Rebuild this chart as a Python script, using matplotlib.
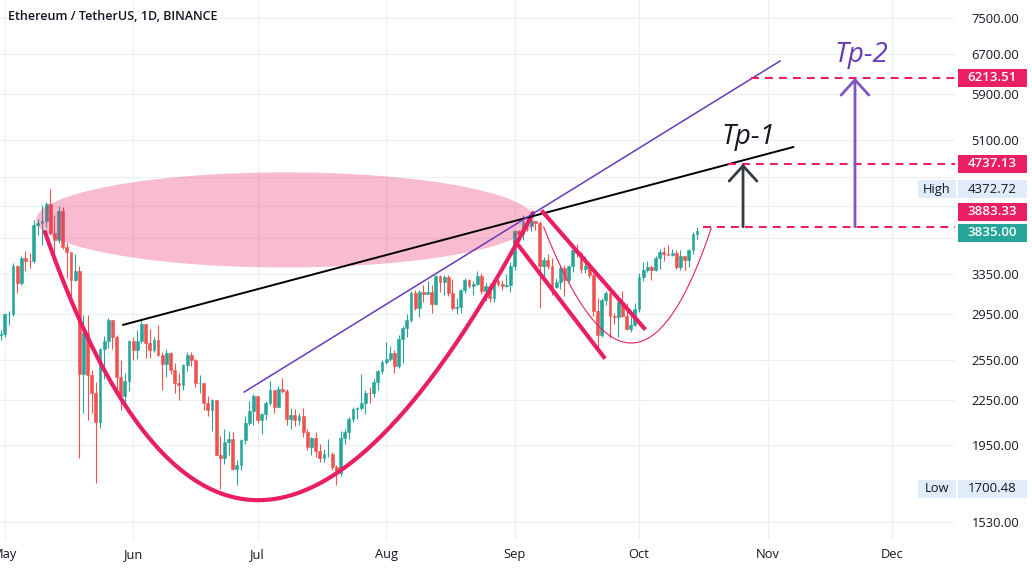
import numpy as np
import pandas as pd
import matplotlib
matplotlib.use("Agg")
import matplotlib.pyplot as plt
import matplotlib.dates as mdates
from matplotlib.patches import FancyArrowPatch, ArrowStyle, Rectangle

plt.rcParams['font.family'] = ['Open Sans', 'DejaVu Sans']

# ETH/USDT daily candles, 30 Apr - 15 Oct 2021
dates = pd.date_range("2021-04-30", "2021-10-15", freq="D")
first_open = 2757
closes = [2772,
          2945, 2950, 3431, 3253, 3522, 3490, 3482, 3902, 3928, 3951, 4169, 3810, 3720, 4076, 3640, 3588,
          3280, 3380, 2440, 2780, 2430, 2295, 2100, 2640, 2705, 2890, 2745, 2420, 2280, 2390, 2706,
          2633, 2706, 2855, 2690, 2630, 2715, 2590, 2515, 2610, 2470, 2370, 2355, 2510, 2590, 2550,
          2370, 2374, 2230, 2180, 2250, 1890, 1875, 1970, 1990, 1810, 1830, 1980, 2090, 2170, 2275,
          2110, 2150, 2230, 2320, 2200, 2325, 2315, 2115, 2145, 2110, 2140, 2035, 1940, 1995, 1915, 1875,
          1895, 1897, 1820, 1785, 1995, 2030, 2120, 2185, 2190, 2230, 2300, 2298, 2380, 2460, 2535,
          2555, 2610, 2505, 2725, 2825, 2890, 3155, 3010, 3165, 3140, 3165, 3045, 3320, 3265, 3310, 3150,
          3010, 3015, 3180, 3285, 3225, 3240, 3325, 3175, 3225, 3100, 3275, 3245, 3225, 3228, 3430,
          3835, 3790, 3940, 3890, 3950, 3925, 3430, 3495, 3430, 3210, 3265, 3410, 3285, 3430, 3610,
          3570, 3400, 3430, 3330, 2980, 2760, 3080, 3155, 2930, 2925, 3065, 2930, 2810, 2850, 3000,
          3310, 3390, 3420, 3385, 3515, 3585, 3560, 3555, 3575, 3415, 3545, 3500, 3605, 3790, 3835]
highs = [2800,
         2960, 2975, 3460, 3440, 3540, 3600, 3580, 3970, 3980, 4160, 4200, 4372.72, 4030, 4140, 4130, 3690,
         3590, 3560, 3430, 2940, 2940, 2470, 2380, 2650, 2750, 2910, 2890, 2760, 2550, 2450, 2720,
         2740, 2800, 2890, 2860, 2815, 2745, 2845, 2620, 2640, 2620, 2530, 2450, 2520, 2620, 2620,
         2560, 2430, 2370, 2275, 2255, 2250, 2010, 2050, 2040, 2030, 1860, 1990, 2135, 2240, 2290,
         2275, 2160, 2240, 2390, 2320, 2350, 2410, 2325, 2190, 2185, 2160, 2190, 2050, 2000, 2030, 1960,
         1925, 1990, 1910, 1830, 2040, 2050, 2130, 2200, 2200, 2440, 2320, 2340, 2400, 2470, 2550,
         2700, 2665, 2630, 2760, 2840, 2950, 3170, 3185, 3185, 3230, 3270, 3235, 3330, 3330, 3330, 3340,
         3290, 3100, 3190, 3300, 3290, 3270, 3375, 3360, 3250, 3250, 3280, 3290, 3280, 3350, 3470,
         3840, 3840, 4027, 3970, 3975, 3960, 3950, 3525, 3560, 3515, 3300, 3440, 3440, 3440, 3615,
         3680, 3590, 3540, 3445, 3355, 3100, 3100, 3175, 3160, 2960, 3110, 3170, 3050, 2970, 3050,
         3355, 3470, 3490, 3440, 3540, 3615, 3640, 3665, 3620, 3610, 3605, 3545, 3620, 3820, 3880]
lows = [2716,
        2740, 2850, 2935, 3150, 3230, 3380, 3410, 3460, 3780, 3670, 3880, 3790, 3530, 3690, 3620, 3300,
        3120, 3270, 1870, 2160, 2110, 2160, 1730, 2060, 2400, 2650, 2640, 2310, 2180, 2200, 2310,
        2550, 2560, 2690, 2570, 2565, 2620, 2580, 2320, 2420, 2440, 2300, 2250, 2320, 2460, 2500,
        2340, 2300, 2180, 2140, 2040, 1890, 1700.48, 1840, 1890, 1800, 1720, 1800, 1960, 2080, 2080,
        2090, 2020, 2110, 2210, 2160, 2200, 2300, 2080, 2050, 2070, 2080, 2000, 1920, 1890, 1880, 1850,
        1850, 1880, 1800, 1720, 1770, 1955, 1990, 2100, 2120, 2180, 2150, 2230, 2270, 2320, 2440,
        2520, 2540, 2450, 2490, 2530, 2740, 2880, 2990, 2920, 3060, 3140, 2960, 3030, 3160, 3130, 3120,
        2990, 2950, 2960, 3150, 3200, 3130, 3230, 3140, 3070, 3060, 3060, 3220, 3180, 3210, 3160,
        3390, 3720, 3720, 3830, 3830, 3840, 3010, 3280, 3400, 3130, 3200, 3190, 3120, 3265, 3370,
        3530, 3360, 3360, 3300, 2930, 2650, 2740, 3030, 2730, 2860, 2740, 2920, 2800, 2790, 2840,
        2970, 3270, 3370, 3280, 3375, 3400, 3485, 3550, 3540, 3395, 3390, 3390, 3425, 3560, 3740]
opens = [first_open] + closes[:-1]

price_ticks = [1530, 1950, 2250, 2550, 2950, 3350, 3750, 4150, 4550, 5100, 5900, 6700, 7500]
hidden_ticks = [3750, 4150, 4550]   # covered by the price tags
targets = [6213.51, 4737.13, 3883.33]
last_price = 3835.00
high_price = 4372.72
low_price = 1700.48

# drawings (date, price)
cup = [("2021-05-10 17:00", 3820), ("2021-06-25 18:00", 683), ("2021-09-05 10:00", 4055)]
small_cup = [("2021-09-08", 3880), ("2021-09-29 22:00", 1869), ("2021-10-18 10:00", 3868)]
black_line = [("2021-05-29 14:00", 2850), ("2021-11-07 05:00", 4994)]
purple_line = [("2021-06-27 19:00", 2306), ("2021-11-04", 6550)]
flag_low = [("2021-09-01 07:00", 3701), ("2021-09-22 12:00", 2575)]
flag_high = [("2021-09-07 19:00", 4068), ("2021-10-02 05:00", 2821)]
target_starts = ["2021-10-28", "2021-10-22 12:00", "2021-10-16 12:00"]
zone_center = ("2021-07-07 17:00", 3968)
zone_half_days = 60.1
zone_half_log = 0.15

GREEN = "#26a69a"
RED = "#ef5350"
PINK = "#e91e63"
PURPLE = "#673ab7"
TXT = "#131722"

d = mdates.datestr2num
x = mdates.date2num(dates)
o = np.array(opens, float)
c = np.array(closes, float)
h = np.array(highs, float)
l = np.array(lows, float)
up = c >= o
cols = np.where(up, GREEN, RED)

fig = plt.figure(figsize=(10.32, 5.73), dpi=100)
ax = fig.add_axes([0, 33 / 573, 955 / 1032, 540 / 573])
ax.set_yscale("log")
xlim = (d("2021-04-29 21:00"), d("2021-12-16 05:00"))
ax.set_xlim(*xlim)
ax.set_ylim(1445.6, 7941)

ax.vlines(x, l, h, colors=cols, lw=0.8, zorder=2)
ax.bar(x, np.abs(c - o), bottom=np.minimum(o, c), width=0.68, color=cols,
       edgecolor=cols, linewidth=0.4, zorder=2)

# pink zone
t = np.linspace(0, 2 * np.pi, 200)
ex = d(zone_center[0]) + zone_half_days * np.cos(t)
ey = np.exp(np.log(zone_center[1]) + zone_half_log * np.sin(t))
ax.fill(ex, ey, color=PINK, alpha=0.3, lw=0, zorder=3)


def bezier(pts, n=200):
    (x0, y0), (x1, y1), (x2, y2) = [(d(a), np.log(b)) for a, b in pts]
    s = np.linspace(0, 1, n)
    bx = (1 - s) ** 2 * x0 + 2 * (1 - s) * s * x1 + s ** 2 * x2
    by = (1 - s) ** 2 * y0 + 2 * (1 - s) * s * y1 + s ** 2 * y2
    return bx, np.exp(by)


def seg(pts, **kw):
    ax.plot([d(pts[0][0]), d(pts[1][0])], [pts[0][1], pts[1][1]], **kw)


bx, by = bezier(cup)
ax.plot(bx, by, color=PINK, lw=3, solid_capstyle="round", zorder=4)
bx, by = bezier(small_cup)
ax.plot(bx, by, color=PINK, lw=0.8, zorder=4)
seg(black_line, color="black", lw=1.4, zorder=4)
seg(purple_line, color=PURPLE, lw=1.1, zorder=4)
seg(flag_low, color=PINK, lw=3, zorder=4)
seg(flag_high, color=PINK, lw=3, zorder=4)

for s0, p in zip(target_starts, targets):
    ax.hlines(p, d(s0), xlim[1], colors=PINK, lw=1.5, linestyles=(0, (3.8, 2.9)), zorder=4)

# target arrows
for day, top, col in [("2021-10-26 02:00", targets[1], "#363a45"),
                      ("2021-11-22 02:00", targets[0], "#7e57c2")]:
    ax.add_patch(FancyArrowPatch((d(day), targets[2]), (d(day), top),
                                 arrowstyle=ArrowStyle("->", head_length=11, head_width=10),
                                 mutation_scale=1, lw=2, color=col, shrinkA=0, shrinkB=0, zorder=5))

ax.text(d("2021-10-27 07:00"), 5153, "Tp-1", fontsize=20, style="italic", color=TXT,
        ha="center", va="center", zorder=6)
ax.text(d("2021-11-23 14:00"), 6677, "Tp-2", fontsize=20, style="italic", color=PURPLE,
        ha="center", va="center", zorder=6)

# axes styling
for sp in ax.spines.values():
    sp.set_visible(False)
ax.yaxis.tick_right()
ax.yaxis.set_major_locator(matplotlib.ticker.FixedLocator(price_ticks))
ax.yaxis.set_major_formatter(matplotlib.ticker.FixedFormatter(
    ["" if v in hidden_ticks else f"{v:.2f}" for v in price_ticks]))
ax.yaxis.set_minor_locator(matplotlib.ticker.NullLocator())
ax.xaxis.set_major_locator(mdates.MonthLocator())
ax.xaxis.set_major_formatter(mdates.DateFormatter("%b"))
ax.tick_params(axis="y", length=0, pad=12, labelsize=9.3, labelcolor=TXT)
ax.tick_params(axis="x", length=0, pad=6, labelsize=9.3, labelcolor=TXT)
ax.grid(True, color="#eceff3", lw=0.8, zorder=0)
ax.set_axisbelow(True)

fig.text(8 / 1032, 1 - 17 / 573, "Ethereum / TetherUS, 1D, BINANCE", fontsize=9,
         fontweight="semibold", color=TXT, va="center", ha="left")

W, H = 1032, 573


def tag(price, text, face, tcolor, shift=0, name=None, weight="normal"):
    y = ax.transData.transform((xlim[0], price))[1] + shift
    fig.add_artist(Rectangle((958 / W, (y - 9) / H), 69 / W, 18 / H, transform=fig.transFigure,
                             facecolor=face, edgecolor="none", zorder=5))
    fig.text(992 / W, y / H, text, ha="center", va="center", color=tcolor, fontsize=9.5,
             fontweight=weight, zorder=6)
    if name:
        fig.add_artist(Rectangle((918 / W, (y - 9) / H), 38 / W, 18 / H, transform=fig.transFigure,
                                 facecolor=face, edgecolor="none", zorder=5))
        fig.text(937 / W, y / H, name, ha="center", va="center", color=tcolor, fontsize=9.3, zorder=6)


LIGHT = "#e1ecfa"
tag(targets[0], f"{targets[0]:.2f}", PINK, "white", weight="semibold")
tag(targets[1], f"{targets[1]:.2f}", PINK, "white", weight="semibold")
tag(high_price, f"{high_price:.2f}", LIGHT, TXT, name="High")
tag(targets[2], f"{targets[2]:.2f}", PINK, "white", shift=15, weight="semibold")
tag(last_price, f"{last_price:.2f}", GREEN, "white", shift=-2, weight="semibold")
tag(low_price, f"{low_price:.2f}", LIGHT, TXT, name="Low")

fig.savefig("out.png", dpi=100)
